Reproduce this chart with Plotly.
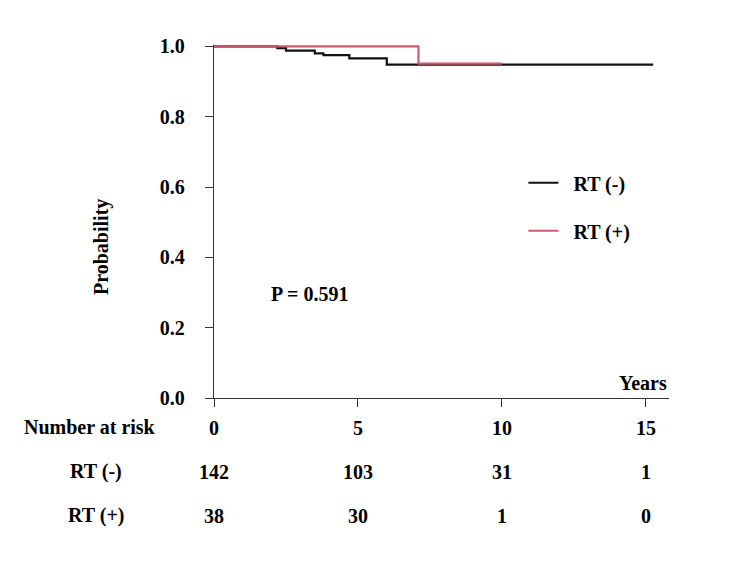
import plotly.graph_objects as go

# Kaplan-Meier step data (years, survival probability)
rt_neg_t = [0, 2.2, 2.5, 3.5, 3.8, 4.7, 6.0, 15.25]
rt_neg_s = [1.0, 0.995, 0.988, 0.980, 0.975, 0.966, 0.948, 0.948]
rt_pos_t = [0, 7.1, 10.0]
rt_pos_s = [1.0, 0.951, 0.951]

risk_times = [0, 5, 10, 15]
risk_rt_neg = [142, 103, 31, 1]
risk_rt_pos = [38, 30, 1, 0]
row_labels = ["RT (-)", "RT (+)"]

FONT = "Liberation Serif"
FS = 20
BLACK = "#111111"
RED = "#CD5A6B"

def f(size=FS):
    return dict(family=FONT, size=size, color="black", weight="bold")

fig = go.Figure()
fig.add_trace(go.Scatter(x=rt_neg_t, y=rt_neg_s, mode="lines", line=dict(shape="hv", color=BLACK, width=2.2),
                         name="\u00a0\u00a0RT (-)", legendgroup="a"))
fig.add_trace(go.Scatter(x=rt_pos_t, y=rt_pos_s, mode="lines", line=dict(shape="hv", color=RED, width=2.2),
                         name="\u00a0\u00a0RT (+)", legendgroup="b"))

fig.update_layout(
    width=750, height=563,
    margin=dict(l=214, r=81, t=45, b=165),
    paper_bgcolor="white", plot_bgcolor="white",
    font=f(),
    showlegend=True,
    legend=dict(x=0.68, y=0.665, xanchor="left", yanchor="top", bgcolor="rgba(0,0,0,0)",
                font=f(), tracegroupgap=19, itemwidth=30),
)
fig.update_xaxes(range=[0, 15.8], showgrid=False, zeroline=False, showline=True, linecolor="#333333", linewidth=1.3,
                 ticks="outside", ticklen=8, tickcolor="#333333", tickvals=risk_times,
                 ticktext=[str(t) for t in risk_times], ticklabelstandoff=4,
                 tickfont=f())
fig.update_yaxes(range=[0, 1.004], showgrid=False, zeroline=False, showline=True, linecolor="#333333", linewidth=1.3,
                 ticks="outside", ticklen=8, tickcolor="#333333", tickvals=[0, 0.2, 0.4, 0.6, 0.8, 1.0],
                 tickformat=".1f", ticklabelstandoff=16,
                 tickfont=f())

fig.add_annotation(x=-0.246, y=0.428, xref="paper", yref="paper", text="Probability", textangle=-90,
                   showarrow=False, xanchor="center", yanchor="middle", font=f())
fig.add_annotation(x=15.8, y=0.0, xref="x", yref="y", text="Years", showarrow=False,
                   xanchor="right", yanchor="bottom", yshift=2, font=f())
fig.add_annotation(x=3.35, y=0.295, xref="x", yref="y", text="P = 0.591", showarrow=False,
                   font=f())

fig.add_annotation(x=-0.423, y=-0.082, xref="paper", yref="paper", text="Number at risk", showarrow=False,
                   xanchor="left", yanchor="middle", font=f())
row_ys = [-0.2096, -0.334]
for lbl, vals, yy in zip(row_labels, [risk_rt_neg, risk_rt_pos], row_ys):
    fig.add_annotation(x=-0.259, y=yy, xref="paper", yref="paper", text=lbl, showarrow=False,
                       xanchor="center", yanchor="middle", font=f())
    for t, v in zip(risk_times, vals):
        fig.add_annotation(x=t, y=yy, xref="x", yref="paper", text=str(v), showarrow=False,
                           xanchor="center", yanchor="middle", font=f())

fig.write_html("out.html")
